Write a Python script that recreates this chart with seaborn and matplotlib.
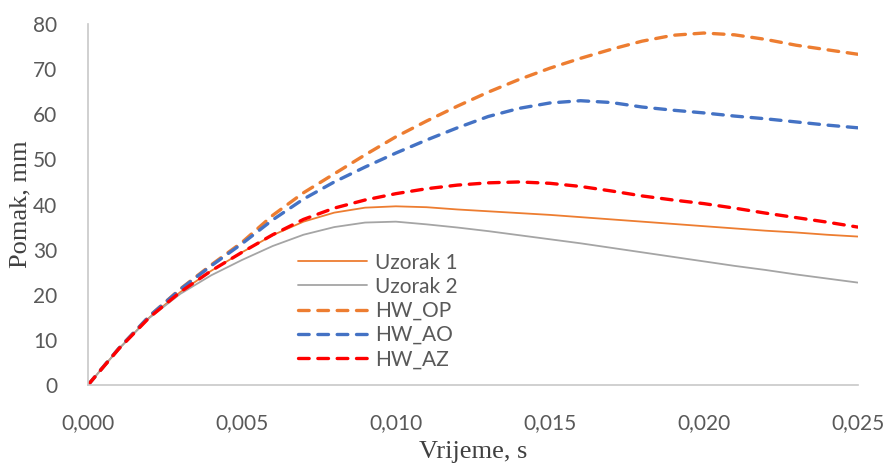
import pandas as pd
import seaborn as sns
import matplotlib.pyplot as plt
from matplotlib.ticker import FuncFormatter

# Vrijeme (s) i pomaci (mm) ocitani s grafa
vrijeme = [0.000, 0.001, 0.002, 0.003, 0.004, 0.005, 0.006, 0.007, 0.008, 0.009,
           0.010, 0.011, 0.012, 0.013, 0.014, 0.015, 0.016, 0.017, 0.018, 0.019,
           0.020, 0.021, 0.022, 0.023, 0.024, 0.025]

uzorak_1 = [0, 8.0, 15.0, 20.6, 25.3, 29.4, 33.2, 36.2, 38.2, 39.3,
            39.6, 39.4, 38.9, 38.5, 38.1, 37.7, 37.2, 36.7, 36.2, 35.7,
            35.2, 34.7, 34.2, 33.8, 33.3, 32.9]
uzorak_2 = [0, 8.0, 14.9, 20.2, 24.3, 27.7, 30.8, 33.3, 35.0, 36.0,
            36.2, 35.6, 34.9, 34.1, 33.2, 32.3, 31.4, 30.4, 29.4, 28.4,
            27.4, 26.4, 25.5, 24.5, 23.6, 22.7]
hw_op = [0, 8.1, 15.3, 21.3, 26.6, 31.6, 37.6, 42.6, 46.8, 51.0,
         55.0, 58.5, 61.8, 64.9, 67.7, 70.2, 72.4, 74.4, 76.2, 77.5,
         78.0, 77.6, 76.6, 75.3, 74.3, 73.3]
hw_ao = [0, 8.1, 15.3, 21.2, 26.4, 31.3, 36.6, 41.2, 45.0, 48.3,
         51.4, 54.3, 57.0, 59.5, 61.3, 62.5, 63.0, 62.6, 61.6, 60.9,
         60.3, 59.6, 59.0, 58.3, 57.6, 57.0]
hw_az = [0, 8.0, 15.0, 20.6, 25.3, 29.4, 33.3, 36.7, 39.2, 41.0,
         42.4, 43.5, 44.3, 44.8, 45.0, 44.7, 44.0, 43.0, 41.9, 41.0,
         40.2, 39.2, 38.1, 37.1, 36.1, 35.0]

serije = {
    "Uzorak 1": (uzorak_1, "#ED7D31", "-", 1.3),
    "Uzorak 2": (uzorak_2, "#A5A5A5", "-", 1.3),
    "HW_OP": (hw_op, "#ED7D31", "--", 2.4),
    "HW_AO": (hw_ao, "#4472C4", "--", 2.4),
    "HW_AZ": (hw_az, "#FF0000", "--", 2.4),
}

sns.set_style("white")
plt.rcParams["font.family"] = ["Lato", "DejaVu Sans"]

fig = plt.figure(figsize=(8.86, 4.66), dpi=100)
ax = fig.add_axes([0.0993, 0.1738, 0.8687, 0.7747])

for ime, (vals, boja, stil, lw) in serije.items():
    df = pd.DataFrame({"t": vrijeme, "y": vals})
    sns.lineplot(data=df, x="t", y="y", ax=ax, color=boja, linewidth=lw, label=ime)
    linija = ax.lines[-1]
    linija.set_solid_joinstyle("round")
    if stil == "--":
        linija.set_dashes((3.2, 2.6))
        linija.set_dash_capstyle("round")
        linija.set_dash_joinstyle("round")

ax.set_xlim(0, 0.025)
ax.set_ylim(0, 80)
ax.set_xticks([0, 0.005, 0.010, 0.015, 0.020, 0.025])
ax.set_yticks(range(0, 81, 10))
ax.xaxis.set_major_formatter(FuncFormatter(lambda v, p: f"{v:.3f}".replace(".", ",")))
ax.tick_params(axis="both", length=0, labelsize=15, labelcolor="#595959")
ax.tick_params(axis="x", pad=20)
ax.tick_params(axis="y", pad=22)

for s in ["top", "right"]:
    ax.spines[s].set_visible(False)
for s in ["left", "bottom"]:
    ax.spines[s].set_color("#C8C8C8")
    ax.spines[s].set_linewidth(1.2)

ax.set_xlabel("Vrijeme, s", family="Liberation Serif", fontsize=19, color="#404040", labelpad=6)
ax.set_ylabel("Pomak, mm", family="Liberation Serif", fontsize=19, color="#404040", labelpad=1)

ax.legend(loc="upper left", bbox_to_anchor=(0.262, 0.39), frameon=False, fontsize=15,
          handlelength=3.3, handletextpad=0.4, labelspacing=0.2, labelcolor="#595959",
          borderaxespad=0)

fig.savefig("out.png", dpi=100)
